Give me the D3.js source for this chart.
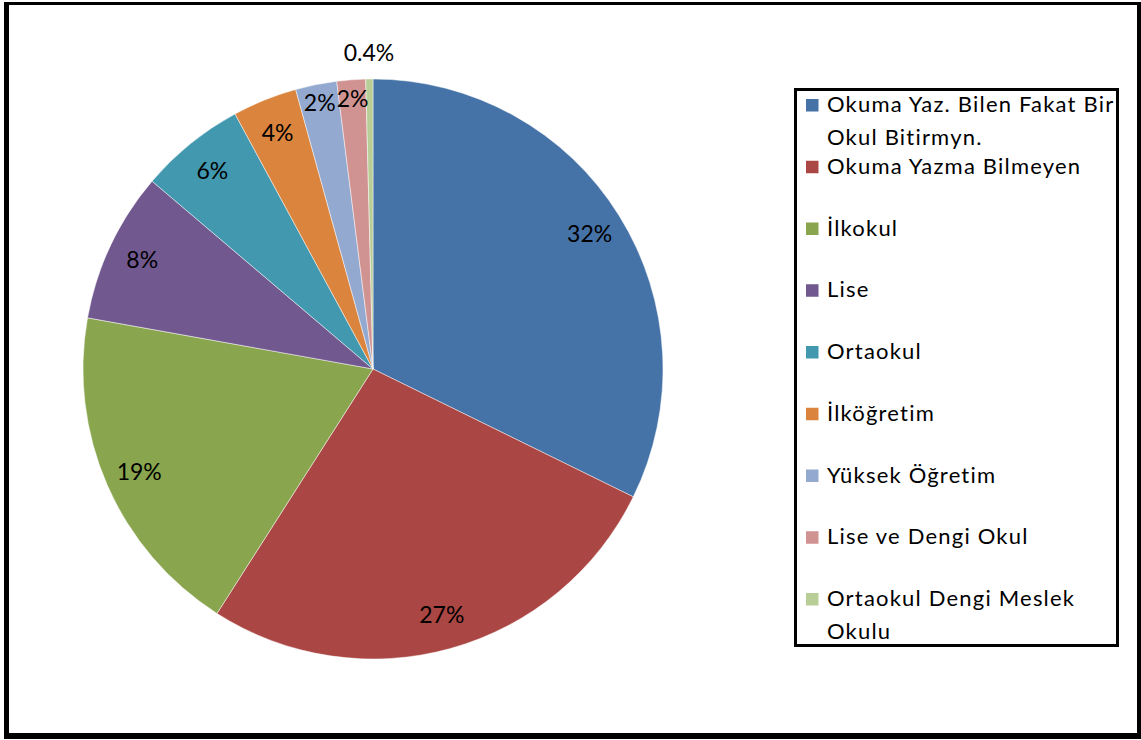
<!DOCTYPE html>
<html><head><meta charset="utf-8">
<script src="https://cdn.jsdelivr.net/npm/d3@7"></script>
<style>body{margin:0;background:#fff} svg{display:block}</style>
</head><body>
<script>
const categories = ["Okuma Yaz. Bilen Fakat Bir\nOkul Bitirmyn.", "Okuma Yazma Bilmeyen", "İlkokul", "Lise", "Ortaokul", "İlköğretim", "Yüksek Öğretim", "Lise ve Dengi Okul", "Ortaokul Dengi Meslek\nOkulu"];
const values = [32.3, 26.8, 18.8, 8.4, 5.9, 3.6, 2.3, 1.6, 0.4];
const colors = ["#4572A7","#AA4643","#89A54E","#71588F","#4198AF","#DB843D","#93A9CF","#D19392","#B9CD96"];

const W = 1141, H = 740;
const FONT = "Lato, 'Open Sans', sans-serif";
const svg = d3.select("body").append("svg").attr("width", W).attr("height", H);
svg.append("rect").attr("width", W).attr("height", H).attr("fill", "#fff");

// outer frame
const frame = svg.append("g").attr("fill", "#000");
frame.append("rect").attr("x", 4).attr("y", 2).attr("width", 1137).attr("height", 3);
frame.append("rect").attr("x", 4).attr("y", 2).attr("width", 5).attr("height", 737);
frame.append("rect").attr("x", 4).attr("y", 733).attr("width", 1137).attr("height", 6);
frame.append("rect").attr("x", 1137).attr("y", 2).attr("width", 4).attr("height", 737);

// pie
const cx = 373, cy = 369, R = 290;
const data = categories.map((c, i) => ({ name: c, v: values[i], color: colors[i] }));
const pie = d3.pie().sort(null).value(d => d.v);
const arcs = pie(data);
const arc = d3.arc().innerRadius(0).outerRadius(R);
const g = svg.append("g").attr("transform", `translate(${cx},${cy})`);
g.selectAll("path").data(arcs).join("path")
  .attr("d", arc)
  .attr("fill", d => d.data.color)
  .attr("stroke", "#fff").attr("stroke-width", 0.8).attr("stroke-opacity", 0.6);

const fmt = v => v < 1 ? d3.format(".1f")(v) + "%" : d3.format(".0f")(v) + "%";
const labelR = d => d.data.v < 1 ? R * 1.09 : (d.data.v < 3 ? R * 0.935 : R * 0.88);
g.selectAll("text.lbl").data(arcs).join("text")
  .attr("class", "lbl")
  .attr("transform", d => {
    const a = (d.startAngle + d.endAngle) / 2;
    const r = labelR(d);
    return `translate(${Math.sin(a) * r},${-Math.cos(a) * r})`;
  })
  .attr("text-anchor", "middle")
  .attr("dy", "0.36em")
  .attr("font-family", FONT)
  .attr("font-size", 23)
  .attr("fill", "#000")
  .text(d => fmt(d.data.v));

// legend
const lg = svg.append("g");
lg.append("rect").attr("x", 795.5).attr("y", 89.5).attr("width", 322).attr("height", 556)
  .attr("fill", "#fff").attr("stroke", "#000").attr("stroke-width", 3);
const y0 = 112, step = 61.75, lineH = 32.5;
const items = lg.selectAll("g.item").data(data).join("g").attr("class", "item")
  .attr("transform", (d, i) => `translate(0,${y0 + i * step})`);
items.append("rect").attr("x", 806).attr("y", -13).attr("width", 12.5).attr("height", 12.5)
  .attr("fill", d => d.color);
items.append("text").attr("x", 827).attr("y", 0)
  .attr("font-family", FONT).attr("font-size", 22).attr("letter-spacing", 1.2).attr("fill", "#000")
  .selectAll("tspan").data(d => d.name.split("\n")).join("tspan")
  .attr("x", 827).attr("dy", (t, j) => j === 0 ? 0 : lineH)
  .text(t => t);
</script>
</body></html>
